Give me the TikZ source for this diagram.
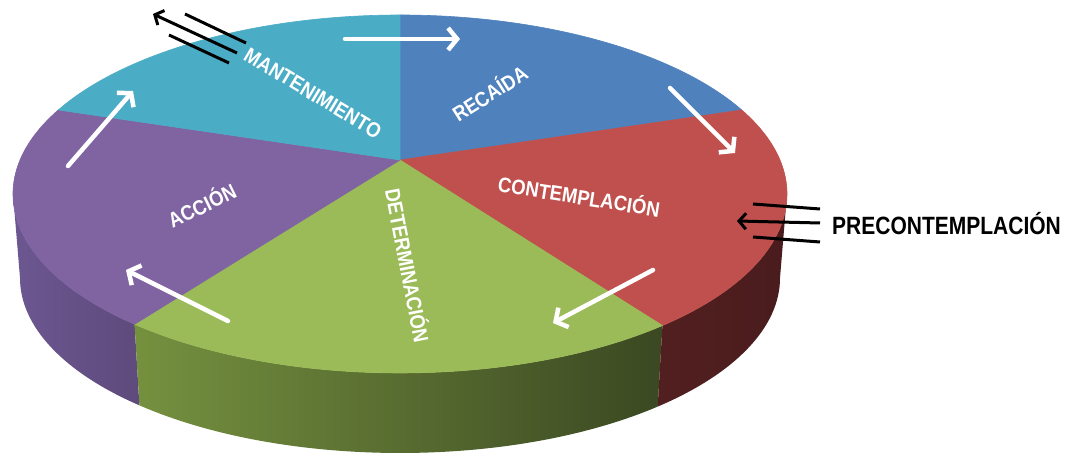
\documentclass[tikz,border=0pt]{standalone}
\usepackage{fontspec}
\setmainfont{Liberation Sans}
\usetikzlibrary{arrows.meta,calc}
\definecolor{cCyan}{HTML}{4BACC6}
\definecolor{cBlue}{HTML}{4F81BD}
\definecolor{cRed}{HTML}{C0504D}
\definecolor{cGreen}{HTML}{9BBB59}
\definecolor{cPurple}{HTML}{8064A2}
\definecolor{sPurL}{HTML}{6C5791}
\definecolor{sPurR}{HTML}{5E4A7B}
\definecolor{sGrnL}{HTML}{75913F}
\definecolor{sGrnM}{HTML}{587036}
\definecolor{sGrnR}{HTML}{3B4822}
\definecolor{sRedL}{HTML}{521F20}
\definecolor{sRedR}{HTML}{4A1C1D}
\begin{document}
\begin{tikzpicture}[x=1pt,y=1pt,
  lbl/.style={text=white,font=\fontsize{21}{21}\selectfont\bfseries,inner sep=0pt,text height=15pt,text depth=0pt},
  toplbl/.style={text=black,font=\fontsize{25}{25}\selectfont\bfseries,inner sep=0pt,text height=18pt,text depth=0pt},
  warrow/.style={draw=white,line width=4.5pt,line cap=round,-{Straight Barb[length=9pt,width=22pt]}},
  bline/.style={draw=black,line width=3pt},
  barrow/.style={bline,-{Straight Barb[length=7pt,width=16pt]}},
  slice/.style={fill=#1,draw=#1,line width=0.6pt,line join=round}]
\useasboundingbox (0,0) rectangle (1066,457);
\coordinate (T) at (400,263);
\coordinate (B) at (400,179);
\coordinate (O) at (400,297);
% side faces
\shade[left color=sPurL,right color=sPurR]
  ($(T)+(180:387 and 179)$) arc[start angle=180,end angle=226.7,x radius=387,y radius=179]
  -- ($(B)+(226.7:380 and 175)$) arc[start angle=226.7,end angle=180,x radius=380,y radius=175] -- cycle;
\shade[left color=sGrnL,middle color=sGrnM,right color=sGrnR]
  ($(T)+(-133.3:387 and 179)$) arc[start angle=-133.3,end angle=-47.3,x radius=387,y radius=179]
  -- ($(B)+(-47.3:380 and 175)$) arc[start angle=-47.3,end angle=-133.3,x radius=380,y radius=175] -- cycle;
\shade[left color=sRedL,right color=sRedR]
  ($(T)+(-47.3:387 and 179)$) arc[start angle=-47.3,end angle=0,x radius=387,y radius=179]
  -- ($(B)+(0:380 and 175)$) arc[start angle=0,end angle=-47.3,x radius=380,y radius=175] -- cycle;
% top faces
\path[slice=cBlue] (O) -- ($(T)+(90:387 and 179)$) arc[start angle=90,end angle=28,x radius=387,y radius=179] -- cycle;
\path[slice=cRed] (O) -- ($(T)+(28:387 and 179)$) arc[start angle=28,end angle=-47.3,x radius=387,y radius=179] -- cycle;
\path[slice=cGreen] (O) -- ($(T)+(-47.3:387 and 179)$) arc[start angle=-47.3,end angle=-133.3,x radius=387,y radius=179] -- cycle;
\path[slice=cPurple] (O) -- ($(T)+(-133.3:387 and 179)$) arc[start angle=-133.3,end angle=-208,x radius=387,y radius=179] -- cycle;
\path[slice=cCyan] (O) -- ($(T)+(152:387 and 179)$) arc[start angle=152,end angle=90,x radius=387,y radius=179] -- cycle;
% labels
\node[lbl,rotate=-31] (mant) at (313,364) {\scalebox{0.88}[1]{MANTENIMIENTO}};
\node[lbl,rotate=32.5] (reca) at (490,363) {\scalebox{0.88}[1]{RECAÍDA}};
\node[lbl,rotate=-9] (cont) at (579,260) {\scalebox{0.88}[1]{CONTEMPLACIÓN}};
\node[lbl,rotate=-79] (dete) at (407,191) {\scalebox{0.88}[1]{DETERMINACIÓN}};
\node[lbl,rotate=26] (acci) at (202,251) {\scalebox{0.88}[1]{ACCIÓN}};
\node[toplbl,anchor=west] (prec) at (832,231) {\scalebox{0.84}[1]{PRECONTEMPLACIÓN}};
% white cycle arrows
\coordinate (a1s) at (345,418); \coordinate (a1e) at (460,418);
\coordinate (a2s) at (670,369); \coordinate (a2e) at (735,304);
\coordinate (a3s) at (653,187); \coordinate (a3e) at (553,134);
\coordinate (a4s) at (228,136); \coordinate (a4e) at (126,187);
\coordinate (a5s) at (68,291);  \coordinate (a5e) at (133,366);
\draw[warrow] (a1s) -- (a1e);
\draw[warrow] (a2s) -- (a2e);
\draw[warrow] (a3s) -- (a3e);
\draw[warrow] (a4s) -- (a4e);
\draw[warrow] (a5s) -- (a5e);
% black arrows near MANTENIMIENTO
\coordinate (m1s) at (185,443); \coordinate (m1e) at (246,414);
\coordinate (m2s) at (237,404); \coordinate (m2e) at (153,443);
\coordinate (m3s) at (169,422); \coordinate (m3e) at (229,394);
\draw[bline] (m1s) -- (m1e);
\draw[barrow] (m2s) -- (m2e);
\draw[bline] (m3s) -- (m3e);
% black arrows near PRECONTEMPLACION
\coordinate (p1s) at (753,253); \coordinate (p1e) at (820,248);
\coordinate (p2s) at (820,234); \coordinate (p2e) at (737,236);
\coordinate (p3s) at (753,220); \coordinate (p3e) at (820,215);
\draw[bline] (p1s) -- (p1e);
\draw[barrow] (p2s) -- (p2e);
\draw[bline] (p3s) -- (p3e);
\end{tikzpicture}
\end{document}
